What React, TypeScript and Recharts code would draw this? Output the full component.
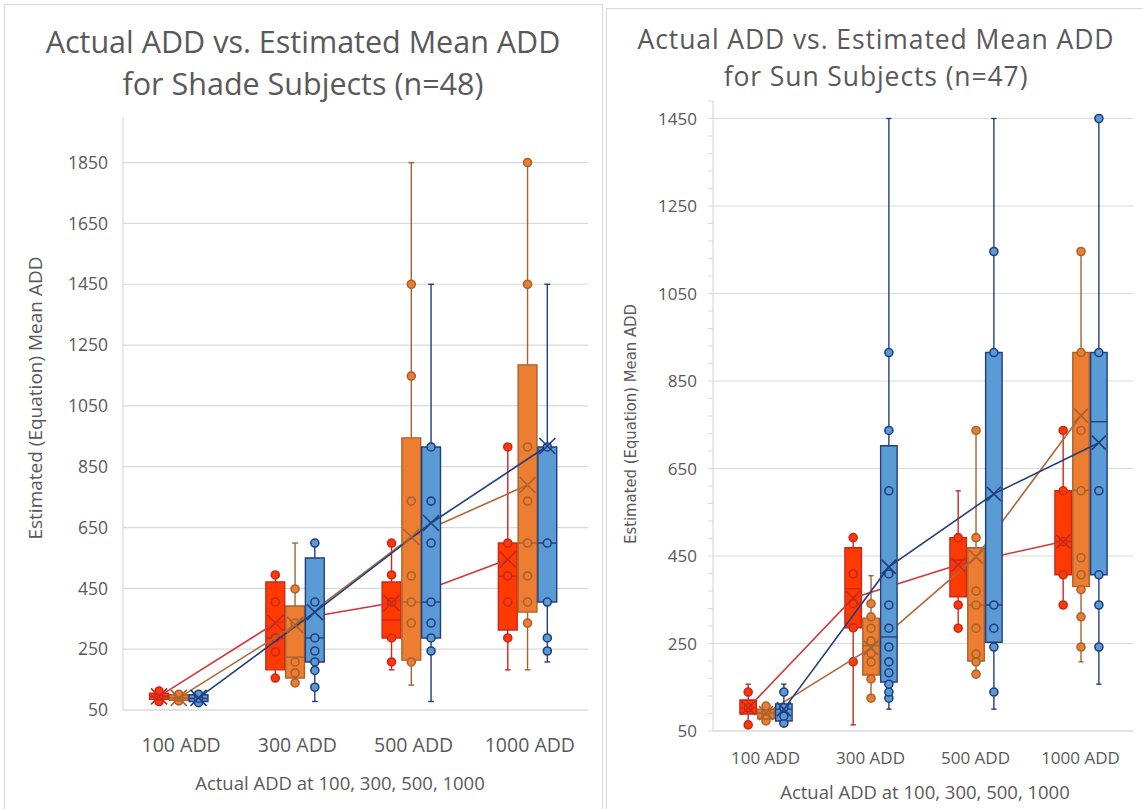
import React from 'react';
import {
  ComposedChart,
  XAxis,
  YAxis,
  CartesianGrid,
  Line,
  Scatter,
  ReferenceArea,
  ReferenceLine,
} from 'recharts';

const categories = ['100 ADD', '300 ADD', '500 ADD', '1000 ADD'];

// each row: [min, q1, median, q3, max, mean] for one category
const shadeRed = [
  [75, 85, 95, 105, 115, 95],
  [155, 182, 287, 471, 494, 336],
  [182, 287, 346, 471, 599, 402],
  [182, 313, 490, 599, 915, 545],
];
const shadeOrange = [
  [78, 82, 90, 100, 106, 90],
  [139, 155, 224, 392, 599, 330],
  [132, 214, 405, 945, 1850, 619],
  [182, 372, 599, 1185, 1850, 790],
];
const shadeBlue = [
  [72, 78, 88, 100, 108, 90],
  [78, 208, 287, 550, 599, 372],
  [78, 287, 405, 915, 1450, 665],
  [208, 405, 599, 915, 1450, 918],
];

const shadeRedPoints = [
  [78, 95, 112],
  [155, 241, 287, 405, 494],
  [208, 287, 405, 494, 599],
  [287, 405, 491, 599, 915],
];
const shadeOrangePoints = [
  [80, 92, 102],
  [139, 172, 208, 336, 448],
  [208, 336, 405, 491, 737, 1148, 1450],
  [336, 405, 491, 599, 737, 915, 1450, 1850],
];
const shadeBluePoints = [
  [74, 88, 102],
  [125, 180, 208, 244, 287, 405, 599],
  [244, 287, 336, 405, 599, 737, 915],
  [244, 287, 405, 599, 915],
];

const sunRed = [
  [64, 89, 103, 121, 157, 103],
  [64, 286, 375, 469, 492, 354],
  [285, 357, 441, 492, 599, 430],
  [338, 407, 483, 599, 737, 483],
];
const sunOrange = [
  [73, 78, 91, 100, 107, 91],
  [125, 178, 245, 308, 405, 240],
  [180, 210, 338, 469, 737, 448],
  [208, 380, 600, 915, 1146, 771],
];
const sunBlue = [
  [68, 73, 100, 112, 157, 100],
  [100, 162, 265, 702, 1450, 425],
  [100, 253, 338, 915, 1450, 592],
  [157, 407, 757, 915, 1450, 709],
];

const sunRedPoints = [
  [64, 103, 139],
  [208, 286, 341, 409, 492],
  [285, 338, 492],
  [338, 407, 483, 599, 737],
];
const sunOrangePoints = [
  [73, 86, 96, 107],
  [125, 169, 208, 228, 256, 285, 311, 341],
  [180, 208, 226, 285, 338, 370, 492, 737],
  [242, 311, 373, 407, 446, 599, 737, 915, 1146],
];
const sunBluePoints = [
  [68, 84, 103, 139],
  [125, 139, 157, 183, 208, 242, 285, 338, 409, 599, 737, 915],
  [139, 242, 285, 338, 915, 1146],
  [242, 338, 407, 599, 915, 1450],
];

const shadeTicks = [50, 250, 450, 650, 850, 1050, 1250, 1450, 1650, 1850];
const sunTicks = [50, 250, 450, 650, 850, 1050, 1250, 1450];
const sunMinorTicks = [
  50, 90, 130, 170, 210, 250, 290, 330, 370, 410, 450, 490, 530, 570, 610, 650,
  690, 730, 770, 810, 850, 890, 930, 970, 1010, 1050, 1090, 1130, 1170, 1210,
  1250, 1290, 1330, 1370, 1410, 1450, 1490,
];

const GREY = '#D9D9D9';
const TEXT = '#595959';
const FONT = "'Open Sans', 'Noto Sans', sans-serif";

const red = { fill: '#FF3A00', stroke: '#C9281E', line: '#D2363A' };
const orange = { fill: '#ED7D31', stroke: '#A9622E', line: '#AE6838' };
const blue = { fill: '#5B9BD5', stroke: '#203F7E', line: '#213F7C' };

type Color = { fill: string; stroke: string; line: string };
type Series = { stats: number[][]; points: number[][]; color: Color };

interface ChartProps {
  width: number;
  height: number;
  margin: { top: number; right: number; bottom: number; left: number };
  yDomain: [number, number];
  majorTicks: number[];
  axisTicks: number[];
  series: Series[];
  offsets: number[];
  boxWidth: number;
  capWidth: number;
  markHalf: number;
  yTickSize: number;
  xTickSize: number;
  yTickMargin: number;
  xTickMargin: number;
  yTickLine: boolean;
}

function BoxPlotChart(props: ChartProps) {
  const { series, offsets, boxWidth, capWidth, markHalf, majorTicks } = props;
  const pos = (i: number, s: number) => i + 0.5 + offsets[s];

  // Excel draws series one after another: box, mean line, points, then the next series on top
  const layers: React.ReactNode[] = [];
  series.forEach((ser, s) => {
    const z = 100 + s * 100;
    const lp = { stroke: ser.color.stroke, strokeWidth: 1.4, ifOverflow: 'visible' as const };

    ser.stats.forEach((st, i) => {
      const [mn, q1, md, q3, mx] = st;
      const c = pos(i, s);
      const k = `${s}-${i}`;
      layers.push(
        <ReferenceLine key={`wl${k}`} segment={[{ x: c, y: mn }, { x: c, y: q1 }]} {...lp} zIndex={z} />,
        <ReferenceLine key={`wh${k}`} segment={[{ x: c, y: q3 }, { x: c, y: mx }]} {...lp} zIndex={z} />,
        <ReferenceLine key={`cl${k}`} segment={[{ x: c - capWidth, y: mn }, { x: c + capWidth, y: mn }]} {...lp} zIndex={z} />,
        <ReferenceLine key={`ch${k}`} segment={[{ x: c - capWidth, y: mx }, { x: c + capWidth, y: mx }]} {...lp} zIndex={z} />,
        <ReferenceArea
          key={`bx${k}`}
          x1={c - boxWidth / 2}
          x2={c + boxWidth / 2}
          y1={q1}
          y2={q3}
          fill={ser.color.fill}
          fillOpacity={1}
          stroke={ser.color.stroke}
          strokeWidth={1.4}
          ifOverflow="visible"
          zIndex={z + 10}
        />,
        <ReferenceLine
          key={`md${k}`}
          segment={[{ x: c - boxWidth / 2, y: md }, { x: c + boxWidth / 2, y: md }]}
          {...lp}
          zIndex={z + 20}
        />
      );
    });

    const meanData = ser.stats.map((st, i) => ({ x: pos(i, s), y: st[5] }));
    const stroke = ser.color.stroke;
    layers.push(
      <Line
        key={`mean${s}`}
        data={meanData}
        dataKey="y"
        type="linear"
        stroke={ser.color.line}
        strokeWidth={1.6}
        isAnimationActive={false}
        activeDot={false}
        zIndex={z + 30}
        dot={(p: any) => (
          <path
            key={`mk${s}-${p.index}`}
            d={`M${p.cx - markHalf},${p.cy - markHalf}L${p.cx + markHalf},${p.cy + markHalf}M${p.cx - markHalf},${p.cy + markHalf}L${p.cx + markHalf},${p.cy - markHalf}`}
            stroke={stroke}
            strokeWidth={1.6}
            fill="none"
          />
        )}
      />
    );

    const pointData = ser.points.flatMap((vals, i) => vals.map((v) => ({ x: pos(i, s), y: v })));
    layers.push(
      <Scatter
        key={`pts${s}`}
        data={pointData}
        dataKey="y"
        isAnimationActive={false}
        zIndex={z + 40}
        shape={(p: any) => (
          <circle cx={p.cx} cy={p.cy} r={4} fill={ser.color.fill} stroke={ser.color.stroke} strokeWidth={1.6} />
        )}
      />
    );
  });

  return (
    <ComposedChart width={props.width} height={props.height} margin={props.margin}>
      <CartesianGrid vertical={false} stroke={GREY} strokeWidth={1.2} horizontalValues={majorTicks} />
      <XAxis
        type="number"
        dataKey="x"
        domain={[0, 4]}
        ticks={[0.5, 1.5, 2.5, 3.5]}
        interval={0}
        allowDecimals
        tickFormatter={(v: number) => categories[Math.round(v - 0.5)]}
        axisLine={{ stroke: GREY, strokeWidth: 1.2 }}
        tickLine={false}
        tickMargin={props.xTickMargin}
        height={40}
        tick={{ fill: TEXT, fontSize: props.xTickSize, fontFamily: FONT }}
      />
      <YAxis
        type="number"
        dataKey="y"
        domain={props.yDomain}
        ticks={props.axisTicks}
        interval={0}
        tickFormatter={(v: number) => (majorTicks.includes(v) ? String(v) : '')}
        axisLine={{ stroke: GREY, strokeWidth: 1.2 }}
        tickLine={props.yTickLine ? { stroke: GREY } : false}
        tickSize={props.yTickLine ? 5 : 6}
        tickMargin={props.yTickMargin}
        width={80}
        tick={{ fill: TEXT, fontSize: props.yTickSize, fontFamily: FONT }}
      />
      {layers}
    </ComposedChart>
  );
}

const abs = (style: React.CSSProperties): React.CSSProperties => ({ position: 'absolute', ...style });

export default function App() {
  return (
    <div style={abs({ left: 0, top: 0, width: 1143, height: 809, background: '#fff', overflow: 'hidden', fontFamily: FONT, color: TEXT })}>
      <div style={abs({ left: 4, top: 4, width: 597, height: 820, border: `1px solid ${GREY}` })} />
      <div style={abs({ left: 606, top: 8, width: 545, height: 820, border: `1px solid ${GREY}` })} />

      <div style={abs({ left: 0, top: 0 })}>
        <BoxPlotChart
          width={602}
          height={809}
          margin={{ top: 117, right: 14, bottom: 59, left: 43 }}
          yDomain={[50, 2000]}
          majorTicks={shadeTicks}
          axisTicks={shadeTicks}
          series={[
            { stats: shadeRed, points: shadeRedPoints, color: red },
            { stats: shadeOrange, points: shadeOrangePoints, color: orange },
            { stats: shadeBlue, points: shadeBluePoints, color: blue },
          ]}
          offsets={[-0.19, -0.02, 0.15]}
          boxWidth={0.162}
          capWidth={0.025}
          markHalf={8}
          yTickSize={17.5}
          xTickSize={19.5}
          yTickMargin={9}
          xTickMargin={22}
          yTickLine={false}
        />
      </div>

      <div style={abs({ left: 606, top: 0 })}>
        <BoxPlotChart
          width={537}
          height={809}
          margin={{ top: 101, right: 10, bottom: 38, left: 27 }}
          yDomain={[50, 1490]}
          majorTicks={sunTicks}
          axisTicks={sunMinorTicks}
          series={[
            { stats: sunRed, points: sunRedPoints, color: red },
            { stats: sunOrange, points: sunOrangePoints, color: orange },
            { stats: sunBlue, points: sunBluePoints, color: blue },
          ]}
          offsets={[-0.165, 0.005, 0.175]}
          boxWidth={0.157}
          capWidth={0.025}
          markHalf={7}
          yTickSize={17}
          xTickSize={17}
          yTickMargin={11}
          xTickMargin={15}
          yTickLine={true}
        />
      </div>

      <div style={abs({ left: 0, top: 21, width: 606, textAlign: 'center', fontSize: 30.5, lineHeight: '41.5px' })}>
        Actual ADD vs. Estimated Mean ADD
        <br />
        for Shade Subjects (n=48)
      </div>
      <div
        style={abs({
          left: 606,
          top: 21,
          width: 540,
          textAlign: 'center',
          fontSize: 26.5,
          letterSpacing: 0.9,
          lineHeight: '36.5px',
        })}
      >
        Actual ADD vs. Estimated Mean ADD
        <br />
        for Sun Subjects (n=47)
      </div>

      <div style={abs({ left: 40, top: 770, width: 600, textAlign: 'center', fontSize: 18.5, lineHeight: '26px' })}>
        Actual ADD at 100, 300, 500, 1000
      </div>
      <div style={abs({ left: 625, top: 779, width: 600, textAlign: 'center', fontSize: 18.5, lineHeight: '26px' })}>
        Actual ADD at 100, 300, 500, 1000
      </div>

      <div
        style={abs({
          left: 35 - 200,
          top: 398 - 14,
          width: 400,
          height: 28,
          lineHeight: '28px',
          textAlign: 'center',
          fontSize: 19,
          transform: 'rotate(-90deg)',
        })}
      >
        Estimated (Equation) Mean ADD
      </div>
      <div
        style={abs({
          left: 631 - 200,
          top: 424 - 12,
          width: 400,
          height: 24,
          lineHeight: '24px',
          textAlign: 'center',
          fontSize: 16.5,
          fontFamily: "'Liberation Sans Narrow', 'DejaVu Sans Condensed', sans-serif",
          transform: 'rotate(-90deg)',
        })}
      >
        Estimated (Equation) Mean ADD
      </div>
    </div>
  );
}
